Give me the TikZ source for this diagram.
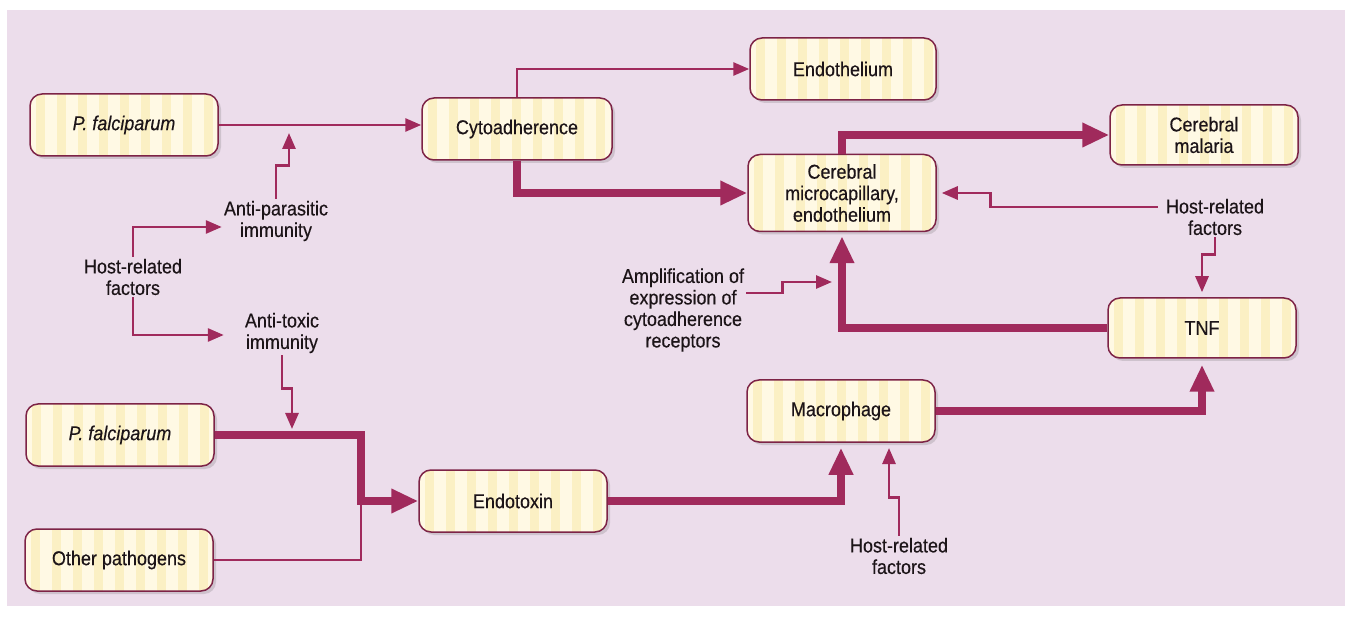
\documentclass[tikz,border=0pt]{standalone}
\usepackage{fontspec}
\setmainfont{Liberation Sans}[FakeStretch=0.9,FakeBold=0.35]
\usetikzlibrary{arrows.meta,shadows}
\definecolor{bgpink}{RGB}{236,221,235}
\definecolor{boxfill}{RGB}{255,249,228}
\definecolor{boxstripe}{RGB}{251,240,196}
\definecolor{boxline}{RGB}{125,35,70}
\definecolor{arrowcol}{RGB}{160,42,92}
\definecolor{txt}{RGB}{28,20,24}
\begin{document}
\begin{tikzpicture}[x=1pt,y=-1pt,
  font=\fontsize{20}{21.5}\selectfont, text=txt,
  box/.style={rectangle, rounded corners=12pt, draw=boxline, line width=1.5pt, fill=boxfill,
    minimum width=188pt, minimum height=62pt, align=center, inner sep=0pt,
    drop shadow={shadow xshift=3pt, shadow yshift=-3pt, opacity=0.22, fill=black!60},
    path picture={\foreach \k in {0,...,9}{\fill[boxstripe, sharp corners] ([xshift=\k*21pt+6pt]path picture bounding box.south west) rectangle ([xshift=\k*21pt+15pt]path picture bounding box.north west);}}},
  lbl/.style={align=center, inner sep=2pt},
  thinline/.style={draw=arrowcol, line width=2.8pt},
  thinarr/.style={thinline, -{Triangle[length=16pt,width=13pt]}},
  thickline/.style={draw=arrowcol, line width=7.5pt},
  thickarr/.style={thickline, -{Triangle[length=27pt,width=23pt]}},
]
\useasboundingbox (0,0) rectangle (1352,617);
\fill[white] (0,0) rectangle (1352,617);
\fill[bgpink] (7,10) rectangle (1345,606);

% boxes
\node[box] (pf1) at (124,125) {\itshape P. falciparum};
\node[box, minimum width=190pt] (cyto) at (517,129) {Cytoadherence};
\node[box, minimum width=186pt] (endo) at (843,69) {Endothelium};
\node[box, minimum height=77pt] (cmc) at (842,193) {Cerebral\\microcapillary,\\endothelium};
\node[box, minimum height=60pt] (cm) at (1204,135) {Cerebral\\malaria};
\node[box, minimum height=60pt] (tnf) at (1202,328) {TNF};
\node[box] (mac) at (841,411) {Macrophage};
\node[box] (etox) at (513,501) {Endotoxin};
\node[box] (pf2) at (120,435) {\itshape P. falciparum};
\node[box] (other) at (119,560) {Other pathogens};

% labels
\node[lbl] (hrf1) at (133,277) {Host-related\\factors};
\node[lbl] (antip) at (276,221) {Anti-parasitic\\immunity};
\node[lbl] (antit) at (282,333) {Anti-toxic\\immunity};
\node[lbl] (ampl) at (683,310) {Amplification of\\expression of\\cytoadherence\\receptors};
\node[lbl] (hrf2) at (1215,217) {Host-related\\factors};
\node[lbl] (hrf3) at (899,556) {Host-related\\factors};

% junction points
\coordinate (j1) at (289,133);
\coordinate (j2) at (292,429);
\coordinate (m1) at (361,0);
\coordinate (j4) at (832,282);
\coordinate (j5) at (889,448);

% connectors
\draw[thinarr] (pf1.east) -- (pf1.east -| cyto.west);
\draw[thinarr] (antip.north) -- ++(0,-33) -| (j1);
\draw[thinarr] (hrf1.north) |- ([yshift=-6pt]antip.west);
\draw[thinarr] (hrf1.south) |- ([xshift=-19pt,yshift=-2pt]antit.west);
\draw[thinarr] (antit.south) -- ++(0,33) -| (j2);
\draw[thinline] (other.east) -| (m1 |- etox.west);
\draw[thickarr] (pf2.east) -- (m1 |- pf2.east) |- (etox.west);
\draw[thinarr] (cyto.north) |- (endo.west);
\draw[thickarr] (cyto.south) |- (cmc.west);
\draw[thickarr] (cmc.north) |- (cm.west);
\draw[thinarr] ([xshift=-6pt,yshift=10pt]hrf2.west) -| ([xshift=54pt]cmc.east) -- ([xshift=5pt]cmc.east);
\draw[thinarr] (hrf2.south) -- ++(0,17) -| ([yshift=5pt]tnf.north);
\draw[thickarr] (tnf.west) -| ([yshift=-4pt]cmc.south);
\draw[thinarr] ([yshift=17pt]ampl.east) -- ++(36,0) |- (j4);
\draw[thickarr] (etox.east) -| ([yshift=-5pt]mac.south);
\draw[thickarr] (mac.east) -| ([yshift=-6pt]tnf.south);
\draw[thinarr] (hrf3.north) -- ++(0,-38) -| (j5);
\end{tikzpicture}
\end{document}
